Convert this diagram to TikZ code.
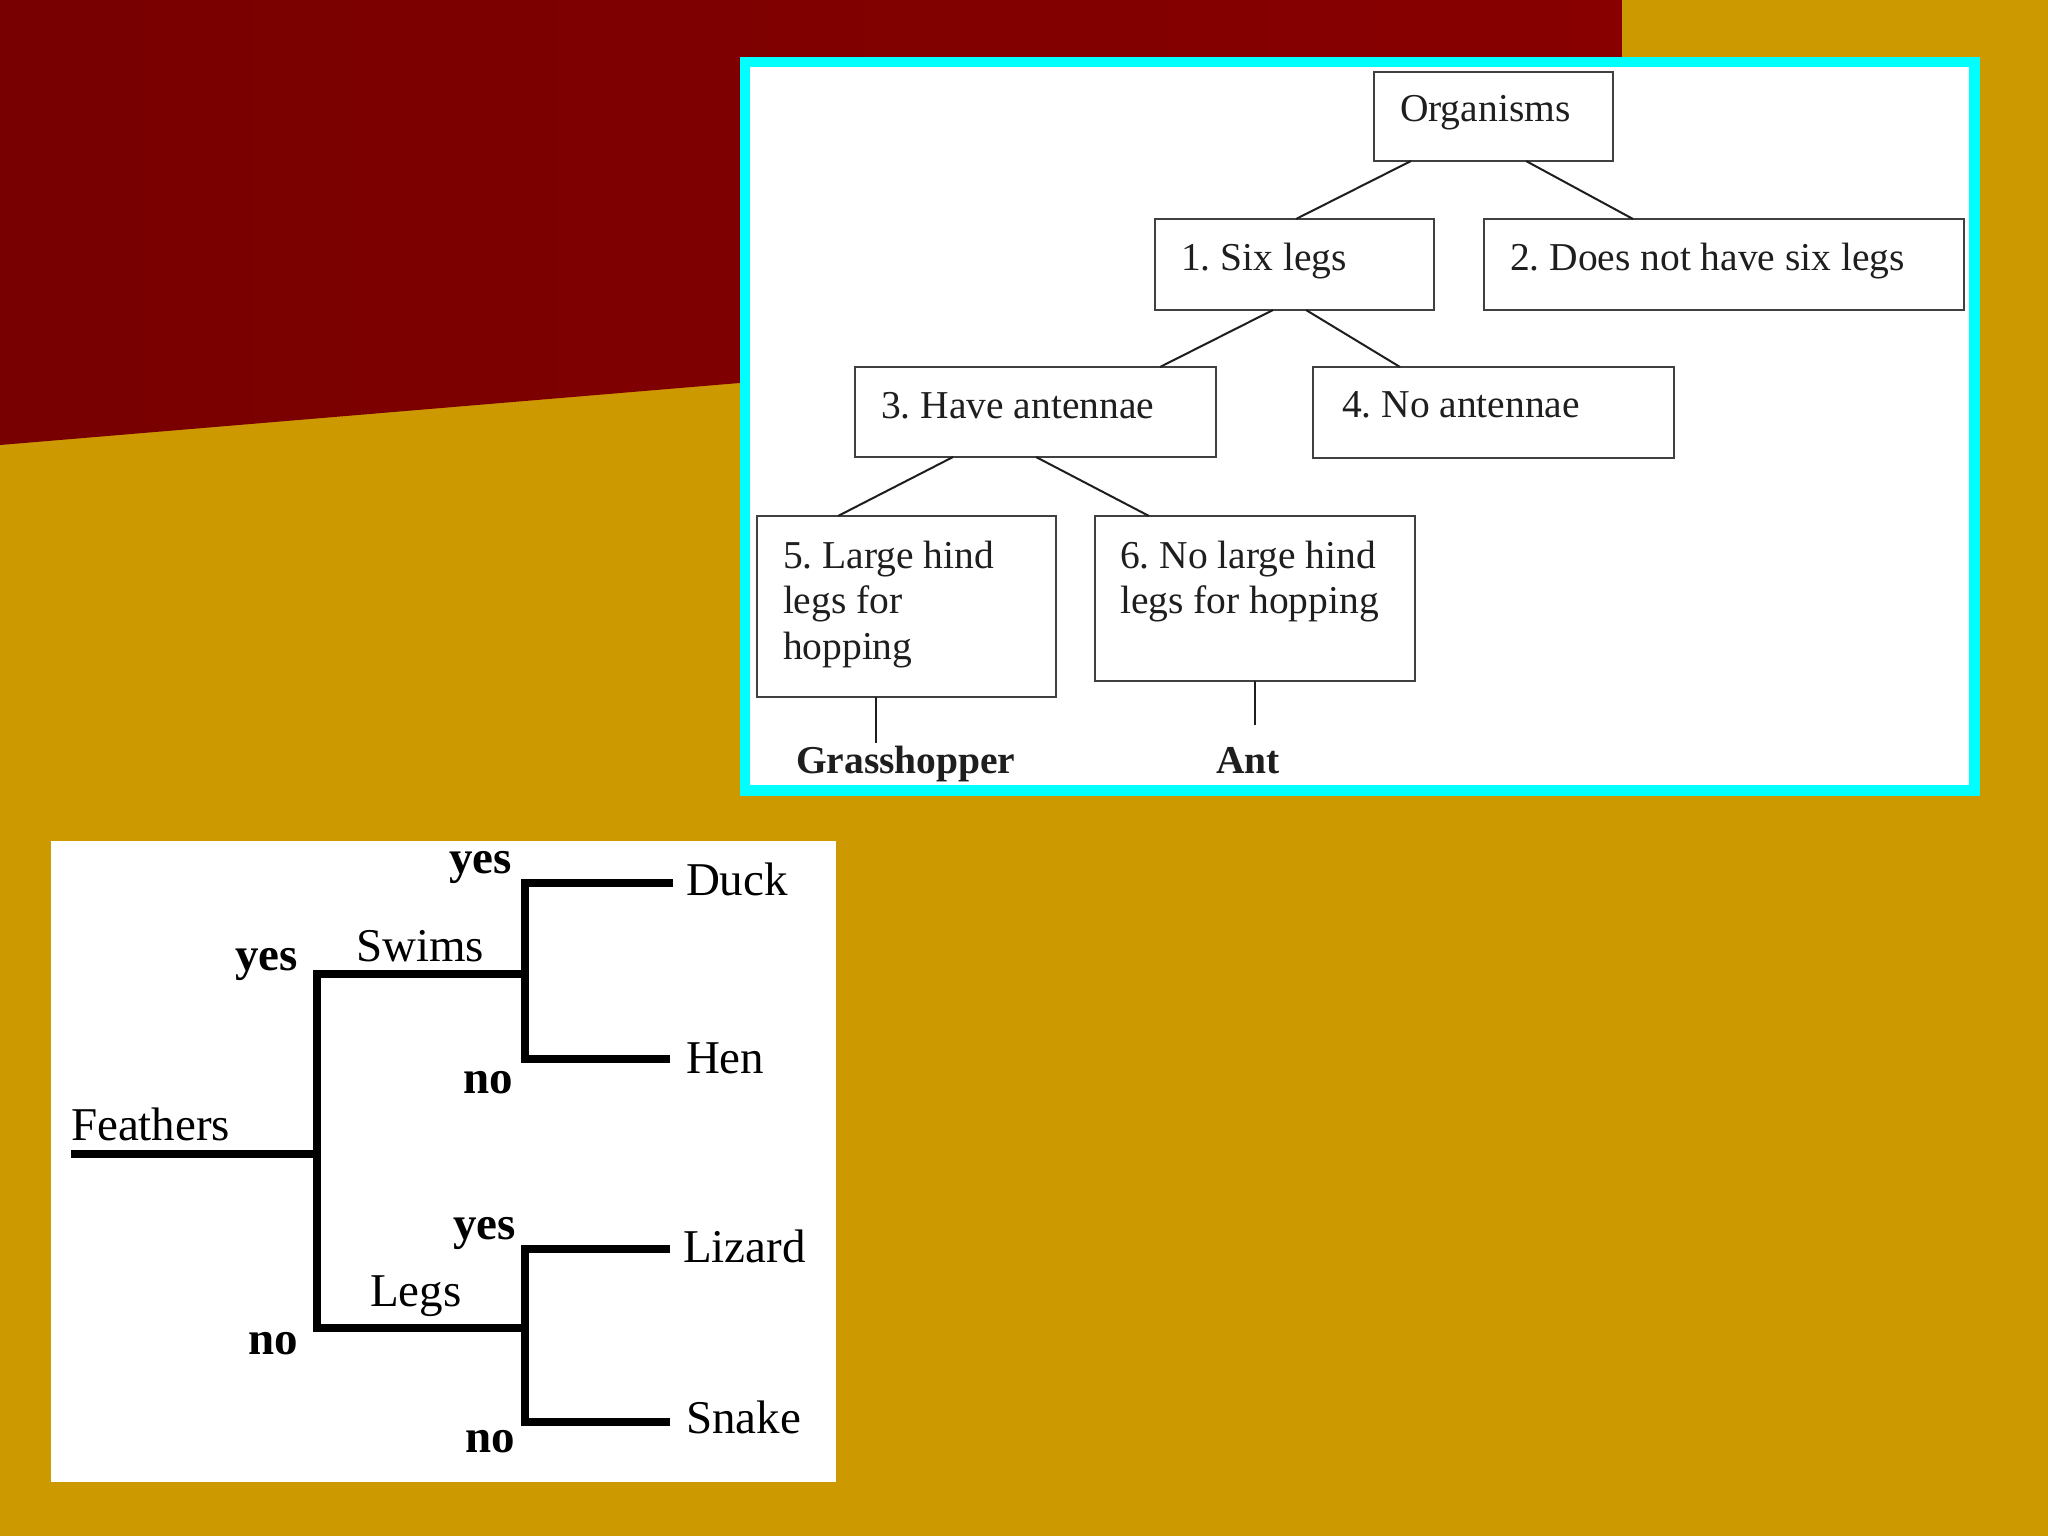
\documentclass[tikz,border=0pt]{standalone}
\usepackage{fontspec}
\setmainfont{Liberation Serif}
\frenchspacing
\definecolor{gold}{RGB}{204,153,0}
\definecolor{redL}{RGB}{120,0,0}
\definecolor{redR}{RGB}{136,0,0}
\definecolor{cyanfr}{RGB}{0,255,255}
\definecolor{ink}{RGB}{30,30,30}
\tikzset{
  boxst/.style={draw=ink!85, line width=1.35pt, fill=white, inner sep=0, outer sep=0},
  conn/.style={draw=ink, line width=1pt},
  lbl/.style={inner sep=0, outer sep=0, anchor=base west, text=ink, font=\fontsize{19.75}{23}\selectfont},
  blbl/.style={lbl, font=\fontsize{19.75}{23}\selectfont\bfseries},
  tlbl/.style={inner sep=0, outer sep=0, anchor=base west, text=black, font=\fontsize{23.5}{27}\selectfont},
  tblbl/.style={tlbl, font=\fontsize{23.5}{27}\selectfont\bfseries},
  branch/.style={draw=black, line width=4pt, line join=miter, line cap=butt}
}
\begin{document}
\frenchspacing
\begin{tikzpicture}[x=0.5pt, y=-0.5pt]
\useasboundingbox (0,0) rectangle (2048,1536);
% background
\fill[gold] (0,0) rectangle (2048,1536);
\shade[left color=redL, right color=redR] (0,0) -- (1622,0) -- (1622,309) -- (0,445) -- cycle;
% top panel frame
\fill[cyanfr] (740,57) rectangle (1980,796);
\fill[white] (750,67) rectangle (1969,785);
% boxes
\node[boxst, minimum width=119.5pt, minimum height=44.5pt] (o) at (1493.5,116.5) {};
\node[boxst, minimum width=139.5pt, minimum height=45.5pt] (b1) at (1294.5,264.5) {};
\node[boxst, minimum width=240pt, minimum height=45.5pt] (b2) at (1724,264.5) {};
\node[boxst, minimum width=180.5pt, minimum height=45pt] (b3) at (1035.5,412) {};
\node[boxst, minimum width=180.5pt, minimum height=45.5pt] (b4) at (1493.5,412.5) {};
\node[boxst, minimum width=149.5pt, minimum height=90.5pt] (b5) at (906.5,606.5) {};
\node[boxst, minimum width=160pt, minimum height=82.5pt] (b6) at (1255,598.5) {};
% box texts
\node[lbl] (to) at (1400,121) {Organisms};
\node[lbl] (t1) at (1181,270) {1. Six legs};
\node[lbl] (t2) at (1510,270) {2. Does not have six legs};
\node[lbl] (t3) at (881,418) {3. Have antennae};
\node[lbl] (t4) at (1342,417) {4. No antennae};
\node[lbl] (t5a) at (783,568) {5. Large hind};
\node[lbl] (t5b) at (783,613) {legs for};
\node[lbl] (t5c) at (783,659) {hopping};
\node[lbl] (t6a) at (1120,568) {6. No large hind};
\node[lbl] (t6b) at (1120,613) {legs for hopping};
\node[blbl] (gh) at (796,773) {Grasshopper};
\node[blbl] (ant) at (1216,773) {Ant};
% connectors
\draw[conn] (1411,0 |- o.south) -- (1296,0 |- b1.north);
\draw[conn] (1526,0 |- o.south) -- (1633,0 |- b2.north);
\draw[conn] (1273,0 |- b1.south) -- (1160,0 |- b3.north);
\draw[conn] (1306,0 |- b1.south) -- (1400,0 |- b4.north);
\draw[conn] (953,0 |- b3.south) -- (838,0 |- b5.north);
\draw[conn] (1036,0 |- b3.south) -- (1149,0 |- b6.north);
\coordinate (ghend) at (876,743);
\coordinate (antend) at (1255,725);
\draw[conn] (876,0 |- b5.south) -- (ghend);
\draw[conn] (1255,0 |- b6.south) -- (antend);
% bottom panel
\fill[white] (51,841) rectangle (836,1482);
\coordinate (fL) at (71,1154);
\coordinate (fJ) at (317,1154);
\coordinate (sJ) at (317,974);
\coordinate (lJ) at (317,1328);
\coordinate (sR) at (525,974);
\coordinate (lR) at (525,1328);
\coordinate (dJ) at (525,883);
\coordinate (hJ) at (525,1059);
\coordinate (zJ) at (525,1249);
\coordinate (nJ) at (525,1422);
\coordinate (dE) at (673,883);
\coordinate (hE) at (670,1059);
\coordinate (zE) at (670,1249);
\coordinate (nE) at (670,1422);
\draw[branch] (fL) -- ([xshift=2pt]fJ);
\draw[branch] (sR) -- (sJ) -- (lJ) -- (lR);
\draw[branch] (dE) -- (dJ) -- (hJ) -- (hE);
\draw[branch] (zE) -- (zJ) -- (nJ) -- (nE);
\node[tlbl] (duck) at (686,895) {Duck};
\node[tlbl] (hen) at (686,1073) {Hen};
\node[tlbl] (liz) at (683,1262) {Lizard};
\node[tlbl] (snk) at (686,1433) {Snake};
\node[tlbl] (swm) at (356,961) {Swims};
\node[tlbl] (lgs) at (370,1306) {Legs};
\node[tlbl] (fth) at (71,1140) {Feathers};
\node[tblbl] (y1) at (449,873) {yes};
\node[tblbl] (y2) at (235,970) {yes};
\node[tblbl] (y3) at (453,1239) {yes};
\node[tblbl] (n1) at (463,1093) {no};
\node[tblbl] (n2) at (248,1354) {no};
\node[tblbl] (n3) at (465,1452) {no};
\end{tikzpicture}
\end{document}
